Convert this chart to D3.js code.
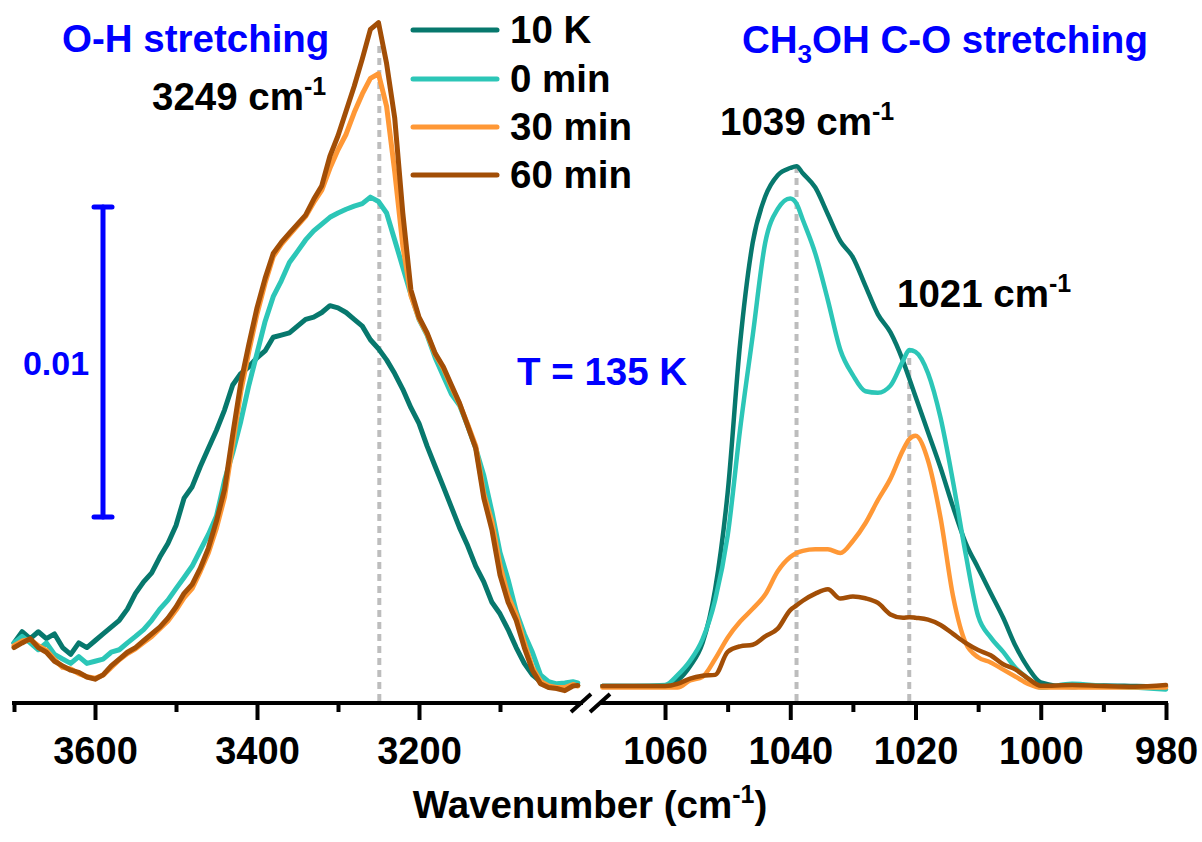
<!DOCTYPE html>
<html>
<head>
<meta charset="utf-8">
<script src="https://cdn.jsdelivr.net/npm/d3@7/dist/d3.min.js"></script>
<style>
  html, body { margin: 0; padding: 0; background: #fff; }
  svg { display: block; font-family: Arial, "Liberation Sans", Helvetica, sans-serif; font-weight: bold; }
</style>
</head>
<body>
<svg id="chart" width="1202" height="842"></svg>
<script>
// ---- Data -------------------------------------------------------------
// O-H stretching region: wavenumber (cm^-1) and absorbance (x 10^-3)
const ohWavenumber = [3700, 3690, 3680, 3670, 3660, 3650, 3640, 3630, 3620, 3610,
  3600, 3590, 3580, 3570, 3560, 3550, 3540, 3530, 3520, 3510,
  3500, 3490, 3480, 3470, 3460, 3450, 3440, 3430, 3420, 3410,
  3400, 3390, 3380, 3370, 3360, 3350, 3340, 3330, 3320, 3310,
  3300, 3290, 3280, 3270, 3260, 3250, 3240, 3230, 3220, 3210,
  3200, 3190, 3180, 3170, 3160, 3150, 3140, 3130, 3120, 3110,
  3100, 3090, 3080, 3070, 3060, 3050, 3040, 3030, 3020, 3010, 3004];
const ohAbs10K = [1.39, 1.75, 1.53, 1.75, 1.53, 1.68, 1.24, 1.02, 1.39, 1.24,
  1.46, 1.68, 1.90, 2.12, 2.48, 2.99, 3.36, 3.65, 4.16, 4.60,
  5.18, 6.06, 6.43, 7.08, 7.67, 8.25, 8.91, 9.71, 10.08, 10.30,
  10.59, 10.81, 11.25, 11.32, 11.39, 11.61, 11.83, 11.90, 12.05, 12.27,
  12.20, 12.05, 11.83, 11.61, 11.17, 10.88, 10.52, 10.08, 9.57, 8.98,
  8.47, 7.74, 7.08, 6.43, 5.77, 5.11, 4.53, 3.87, 3.36, 2.70,
  2.33, 1.82, 1.24, 0.73, 0.36, 0.14, 0.07, 0.00, 0.00, 0.04, 0.02];
const ohAbs0min = [1.39, 1.60, 1.39, 1.17, 1.39, 1.02, 0.87, 0.73, 0.95, 0.73,
  0.80, 0.87, 1.09, 1.17, 1.39, 1.60, 1.82, 2.12, 2.48, 2.77,
  3.14, 3.50, 3.87, 4.38, 4.89, 5.48, 6.64, 7.52, 8.54, 9.71,
  10.73, 11.76, 12.56, 13.07, 13.66, 14.02, 14.39, 14.68, 14.90, 15.12,
  15.26, 15.38, 15.48, 15.56, 15.77, 15.63, 15.26, 14.39, 13.51, 12.63,
  11.83, 11.32, 10.59, 10.00, 9.42, 9.06, 8.40, 7.67, 6.79, 5.62,
  4.31, 3.43, 2.41, 1.68, 1.09, 0.36, 0.14, 0.07, 0.10, 0.14, 0.10];
const ohAbs30min = [1.30, 1.45, 1.50, 1.30, 1.15, 0.85, 0.60, 0.55, 0.40, 0.30,
  0.25, 0.35, 0.60, 0.85, 1.05, 1.20, 1.40, 1.60, 1.85, 2.10,
  2.45, 2.85, 3.15, 3.70, 4.30, 5.10, 6.10, 7.80, 9.50, 10.80,
  12.00, 13.00, 13.85, 14.25, 14.55, 14.85, 15.15, 15.60, 16.00, 16.70,
  17.30, 17.80, 18.50, 19.10, 19.60, 19.75, 18.70, 16.60, 14.20, 12.60,
  11.85, 11.35, 10.70, 10.25, 9.65, 9.10, 8.45, 7.75, 6.20, 5.30,
  3.90, 2.90, 2.30, 1.40, 0.60, 0.15, 0.00, -0.05, -0.05, 0.05, 0.00];
const ohAbs60min = [1.24, 1.39, 1.53, 1.24, 1.09, 0.80, 0.65, 0.51, 0.44, 0.29,
  0.22, 0.36, 0.65, 0.87, 1.09, 1.24, 1.46, 1.68, 1.90, 2.19,
  2.55, 2.99, 3.28, 3.80, 4.45, 5.33, 6.35, 8.11, 9.78, 11.03,
  12.20, 13.15, 13.95, 14.31, 14.61, 14.90, 15.19, 15.70, 16.14, 17.09,
  17.75, 18.55, 19.35, 20.23, 21.18, 21.40, 20.08, 18.33, 15.26, 12.78,
  11.90, 11.39, 10.73, 10.30, 9.71, 9.13, 8.40, 7.67, 6.06, 5.04,
  3.58, 2.70, 2.12, 1.24, 0.51, 0.07, -0.05, -0.08, -0.15, 0.00, 0.02];

// CH3OH C-O stretching region: wavenumber (cm^-1) and absorbance (x 10^-3)
const coWavenumber = [1070, 1065, 1060, 1058, 1056, 1054, 1052, 1050, 1048, 1046,
  1044, 1042, 1040, 1039, 1038, 1036, 1034, 1032, 1030, 1028,
  1026, 1024, 1022, 1021, 1020, 1018, 1016, 1014, 1012, 1010,
  1008, 1006, 1004, 1002, 1000, 995, 990, 985, 980];
const coAbs10K = [0.00, 0.00, 0.00, 0.18, 0.64, 1.39, 3.12, 6.23, 11.07, 14.30,
  15.79, 16.48, 16.71, 16.77, 16.54, 16.08, 15.22, 14.35, 13.83, 12.91,
  11.99, 11.41, 10.49, 9.92, 9.34, 8.19, 7.04, 5.77, 4.62, 3.81,
  3.00, 2.20, 1.28, 0.58, 0.12, -0.03, 0.02, 0.00, -0.02];
const coAbs0min = [0.00, 0.00, 0.03, 0.35, 0.81, 1.51, 2.77, 4.85, 8.30, 11.30,
  14.30, 15.39, 15.73, 15.56, 15.04, 13.95, 12.45, 10.84, 10.03, 9.51,
  9.46, 9.69, 10.49, 10.84, 10.78, 10.09, 8.65, 6.58, 4.27, 2.26,
  1.57, 1.10, 0.58, 0.24, -0.05, 0.07, 0.00, -0.05, -0.11];
const coAbs30min = [-0.05, -0.05, -0.05, -0.05, 0.18, 0.30, 0.87, 1.56, 2.08, 2.49,
  2.95, 3.70, 4.16, 4.29, 4.36, 4.41, 4.41, 4.29, 4.68, 5.25,
  6.00, 6.69, 7.61, 7.96, 8.07, 7.27, 5.42, 2.89, 1.39, 0.93,
  0.76, 0.53, 0.30, 0.07, -0.05, -0.05, -0.05, -0.05, -0.05];
const coAbs60min = [0.00, 0.00, 0.00, 0.07, 0.24, 0.33, 0.36, 1.10, 1.28, 1.33,
  1.60, 1.85, 2.45, 2.60, 2.75, 2.98, 3.12, 2.82, 2.89, 2.83,
  2.68, 2.31, 2.20, 2.22, 2.20, 2.14, 1.97, 1.68, 1.39, 1.16,
  0.99, 0.70, 0.53, 0.24, 0.01, 0.03, 0.00, -0.02, 0.03];

const seriesNames = ["10 K", "0 min", "30 min", "60 min"];
const ohSeries = [ohAbs10K, ohAbs0min, ohAbs30min, ohAbs60min];
const coSeries = [coAbs10K, coAbs0min, coAbs30min, coAbs60min];

// axis ticks
const ohTicksMajor = [3600, 3400, 3200];
const ohTicksMinor = [3700, 3500, 3300, 3100];
const coTicksMajor = [1060, 1040, 1020, 1000, 980];
const coTicksMinor = [1050, 1030, 1010, 990];

// marked band positions and the absorbance (x 10^-3) where each guide line ends
const ohPeakWavenumbers = [3249];
const ohPeakTops = [20.7];
const coPeakWavenumbers = [1039, 1021];
const coPeakTops = [16.77, 10.84];

// absorbance scale bar
const scaleBarValue = 0.01;
const scaleBarBase = 0.00545;

// ---- Styles -----------------------------------------------------------
const seriesColors = ["#07786d", "#2cc6b7", "#ff9836", "#a24e06"];
const blue = "#0000ff";
const labelSize = 38.5;

// ---- Scales -----------------------------------------------------------
const svg = d3.select("#chart");
const axisY = 703;
const xOH = d3.scaleLinear().domain([3700, 3000]).range([14, 581]);
const xCO = d3.scaleLinear().domain([1070, 980]).range([602.4, 1166]);
const y = d3.scaleLinear().domain([-0.000548, 0.02213]).range([axisY, 0]);
const milli = v => v / 1000;

// ---- Guide lines at the marked bands ----------------------------------
const guides = svg.append("g")
  .attr("stroke", "#bdbdbd").attr("stroke-width", 4)
  .attr("stroke-dasharray", "7,5");
ohPeakWavenumbers.forEach((w, i) => {
  guides.append("line")
    .attr("x1", xOH(w)).attr("x2", xOH(w))
    .attr("y1", axisY - 2).attr("y2", y(milli(ohPeakTops[i])));
});
coPeakWavenumbers.forEach((w, i) => {
  guides.append("line")
    .attr("x1", xCO(w)).attr("x2", xCO(w))
    .attr("y1", axisY - 2).attr("y2", y(milli(coPeakTops[i])));
});

// ---- Spectra ----------------------------------------------------------
const ohLine = d3.line()
  .x((d, i) => xOH(ohWavenumber[i]))
  .y(d => y(milli(d)))
  .curve(d3.curveLinear);
const coLine = d3.line()
  .x((d, i) => xCO(coWavenumber[i]))
  .y(d => y(milli(d)))
  .curve(d3.curveMonotoneX);

const spectra = svg.append("g")
  .attr("fill", "none")
  .attr("stroke-linejoin", "round").attr("stroke-linecap", "round");
ohSeries.forEach((s, k) => {
  spectra.append("path").attr("d", ohLine(s)).attr("stroke", seriesColors[k])
    .attr("stroke-width", 5);
});
coSeries.forEach((s, k) => {
  spectra.append("path").attr("d", coLine(s)).attr("stroke", seriesColors[k])
    .attr("stroke-width", 4.5);
});

// ---- Axes -------------------------------------------------------------
function drawAxis(scale, major, minor, x0, x1) {
  const g = svg.append("g").attr("transform", `translate(0,${axisY})`);
  g.append("line").attr("x1", x0).attr("x2", x1)
    .attr("stroke", "#000").attr("stroke-width", 4);
  const majorAxis = d3.axisBottom(scale).tickValues(major)
    .tickSize(17).tickSizeOuter(0).tickPadding(17).tickFormat(d3.format("d"));
  const minorAxis = d3.axisBottom(scale).tickValues(minor)
    .tickSize(9).tickSizeOuter(0).tickFormat("");
  const gm = g.append("g").call(majorAxis);
  const gn = g.append("g").call(minorAxis);
  [gm, gn].forEach(a => {
    a.select(".domain").remove();
    a.selectAll(".tick line").attr("stroke", "#000").attr("stroke-width", 4);
  });
  gm.selectAll(".tick text")
    .attr("fill", "#000").attr("font-size", 38).attr("font-weight", "bold")
    .attr("font-family", "Arial, 'Liberation Sans', sans-serif");
}
drawAxis(xOH, ohTicksMajor, ohTicksMinor, 12, 583);
drawAxis(xCO, coTicksMajor, coTicksMinor, 600, 1168);

// axis break marks
const breaks = svg.append("g").attr("stroke", "#000").attr("stroke-width", 4);
[581, 600].forEach(cx => {
  breaks.append("line")
    .attr("x1", cx - 10).attr("y1", axisY + 9)
    .attr("x2", cx + 10).attr("y2", axisY - 9);
});

// ---- Axis title -------------------------------------------------------
const xTitle = svg.append("text").attr("x", 590).attr("y", 818)
  .attr("text-anchor", "middle").attr("font-size", labelSize).attr("fill", "#000");
xTitle.append("tspan").text("Wavenumber (cm");
xTitle.append("tspan").attr("dy", -15).attr("font-size", 25).text("-1");
xTitle.append("tspan").attr("dy", 15).text(")");

// ---- Scale bar --------------------------------------------------------
const sbX = 103;
const sbTop = y(scaleBarBase + scaleBarValue);
const sbBottom = y(scaleBarBase);
const sb = svg.append("g").attr("stroke", blue).attr("stroke-width", 5)
  .attr("stroke-linecap", "round");
sb.append("line").attr("x1", sbX).attr("x2", sbX).attr("y1", sbTop).attr("y2", sbBottom);
sb.append("line").attr("x1", sbX - 9).attr("x2", sbX + 9).attr("y1", sbTop).attr("y2", sbTop);
sb.append("line").attr("x1", sbX - 9).attr("x2", sbX + 9).attr("y1", sbBottom).attr("y2", sbBottom);
svg.append("text").attr("x", 56).attr("y", (sbTop + sbBottom) / 2 + 13)
  .attr("text-anchor", "middle").attr("font-size", 34).attr("fill", blue)
  .text(d3.format(".2f")(scaleBarValue));

// ---- Labels -----------------------------------------------------------
function supLabel(x, yy, main, sup, color) {
  const t = svg.append("text").attr("x", x).attr("y", yy)
    .attr("font-size", labelSize).attr("fill", color);
  t.append("tspan").text(main);
  t.append("tspan").attr("dy", -15).attr("font-size", 25).text(sup);
  return t;
}
svg.append("text").attr("x", 62).attr("y", 52).attr("font-size", labelSize)
  .attr("fill", blue).text("O-H stretching");
supLabel(152, 110, ohPeakWavenumbers[0] + " cm", "-1", "#000");
supLabel(720, 135, coPeakWavenumbers[0] + " cm", "-1", "#000");
supLabel(897, 307, coPeakWavenumbers[1] + " cm", "-1", "#000");

const coTitle = svg.append("text").attr("x", 742).attr("y", 53)
  .attr("font-size", labelSize).attr("fill", blue);
coTitle.append("tspan").text("CH");
coTitle.append("tspan").attr("dy", 10).attr("font-size", 26).text("3");
coTitle.append("tspan").attr("dy", -10).text("OH C-O stretching");

svg.append("text").attr("x", 517).attr("y", 385).attr("font-size", labelSize)
  .attr("fill", blue).text("T = 135 K");

// ---- Legend -----------------------------------------------------------
const legendY = [30, 79, 127, 175];
const legend = svg.append("g");
seriesNames.forEach((name, k) => {
  legend.append("line")
    .attr("x1", 413).attr("x2", 497).attr("y1", legendY[k]).attr("y2", legendY[k])
    .attr("stroke", seriesColors[k]).attr("stroke-width", 5)
    .attr("stroke-linecap", "round");
  legend.append("text").attr("x", 510).attr("y", legendY[k] + 13)
    .attr("font-size", labelSize).attr("fill", "#000").text(name);
});
</script>
</body>
</html>
